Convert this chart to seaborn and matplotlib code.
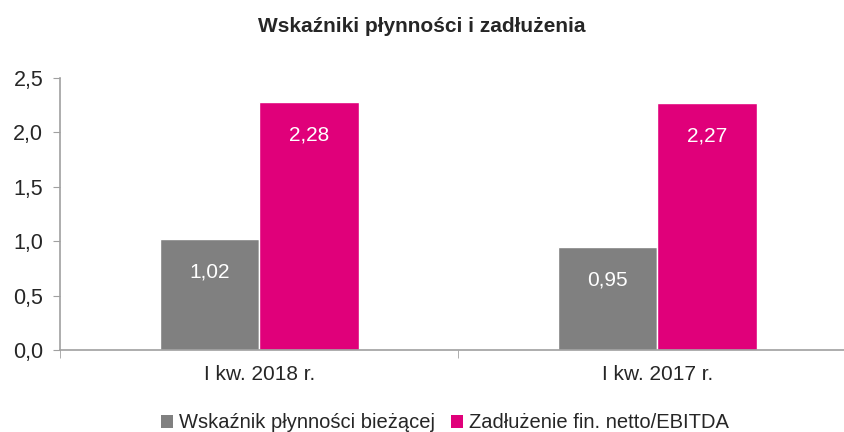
import pandas as pd
import seaborn as sns
import matplotlib.pyplot as plt
from matplotlib.patches import Patch

# dane z wykresu
okresy = ['I kw. 2018 r.', 'I kw. 2017 r.']
serie = ['Wskaźnik płynności bieżącej', 'Zadłużenie fin. netto/EBITDA']
plynnosc = [1.02, 0.95]
zadluzenie = [2.28, 2.27]
kolory = ['#808080', '#E0007A']

df = pd.DataFrame({
    'okres': okresy * 2,
    'seria': [serie[0]] * 2 + [serie[1]] * 2,
    'wartosc': plynnosc + zadluzenie,
})

sns.set_style('white')
plt.rcParams['font.family'] = ['Liberation Sans', 'DejaVu Sans']

fig = plt.figure(figsize=(8.44, 4.32), dpi=100)
ax = fig.add_axes([60 / 844, 82 / 432, 796.5 / 844, 272 / 432])

sns.barplot(data=df, x='okres', y='wartosc', hue='seria', order=okresy,
            hue_order=serie, palette=kolory, width=0.5, gap=0,
            saturation=1, legend=False, ax=ax)

# etykiety wartosci w slupkach
for cont in ax.containers:
    for bar in cont:
        h = bar.get_height()
        ax.annotate(f'{h:.2f}'.replace('.', ','),
                    (bar.get_x() + bar.get_width() / 2, h),
                    xytext=(0, -24), textcoords='offset points',
                    ha='center', va='center', color='white', fontsize=15)

ax.set_xlim(-0.5, 1.5)
ax.set_ylim(0, 2.5)
ax.set_yticks([0, 0.5, 1.0, 1.5, 2.0, 2.5])
ax.set_yticklabels(['0,0', '0,5', '1,0', '1,5', '2,0', '2,5'])
ax.set_xticks([-0.5, 0.5, 1.5], minor=True)
ax.set_xlabel('')
ax.set_ylabel('')

for s in ['top', 'right']:
    ax.spines[s].set_visible(False)
for s in ['left', 'bottom']:
    ax.spines[s].set_color('#A0A0A0')
    ax.spines[s].set_linewidth(1.2)

ax.tick_params(axis='y', which='major', left=True, length=5, color='#A0A0A0',
               labelsize=15.5, pad=7)
ax.tick_params(axis='x', which='major', bottom=False, labelsize=15, pad=7)
ax.tick_params(axis='x', which='minor', bottom=True, length=6, color='#A0A0A0')

fig.text(0.5, 1 - 26 / 432, 'Wskaźniki płynności i zadłużenia',
         ha='center', va='center', fontsize=15, fontweight='bold')

uchwyty = [Patch(facecolor=c, edgecolor='none') for c in kolory]
fig.legend(uchwyty, serie, loc='center', bbox_to_anchor=(445 / 844, 9 / 432),
           ncol=2, frameon=False, fontsize=14.5, handlelength=0.6,
           handleheight=0.6, handletextpad=0.3, columnspacing=0.8)

fig.savefig('out.png', dpi=100)
